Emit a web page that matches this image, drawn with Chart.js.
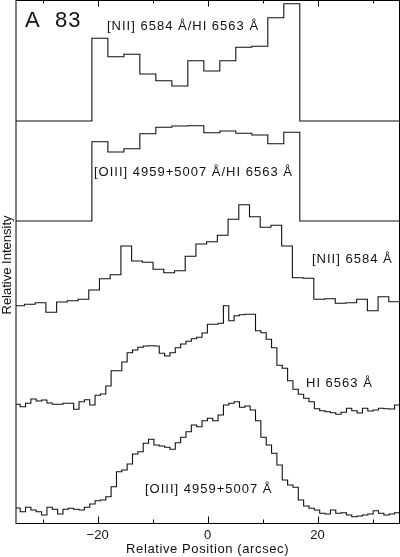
<!DOCTYPE html>
<html>
<head>
<meta charset="utf-8">
<script src="https://cdn.jsdelivr.net/npm/chart.js@4/dist/chart.umd.min.js"></script>
<style>
  html, body { margin: 0; padding: 0; background: #fff; }
</style>
</head>
<body>
<canvas id="chart" width="400" height="557"></canvas>
<script>
// x axis (arcsec)
const xMin = -34.85, xMax = 34.9;
const majorTicks = [-20, 0, 20];
const minorTicks = [-30, -10, 10, 30];

// line ratio profiles, 13 bins of 2.91" starting at -21.05"
const ratioStart = -21.05, ratioWidth = 2.909;
const niiRatio = [82.7, 64.3, 66.7, 47, 40.3, 35, 60.3, 50, 60.3, 73.7, 74.7, 103.3, 117.3];
const oiiiRatio = [79.3, 69, 72.3, 87.3, 93.7, 95, 95.3, 88.3, 90, 87.7, 86, 77.3, 88.7];

// [NII] 6584 profile, bins of 1.95"
const niiStart = -35.26, niiWidth = 1.949;
const niiLine = [14.3, 15.7, 17.3, 7.7, 18, 19.3, 20.7, 30, 41.3, 45.3, 74, 59, 57.7, 50.7, 47.3, 49.3,
  63.7, 76, 78.3, 84.7, 100.7, 115.3, 103.3, 92.7, 94.7, 74, 42.3, 41.7, 20.7, 21.3, 16.7, 17.3,
  20.7, 9.3, 23.3, 18.3];

// HI 6563 and [OIII] profiles, bins of 0.97"
const fineStart = -35.06, fineWidth = 0.9727;
const hiLine = [15.7, 13.3, 16.7, 21, 19, 20, 17, 15.7, 15.7, 16.7, 16.7, 10.7, 18.3, 20.3, 15, 24.7,
  26, 34, 49.3, 49.3, 58, 67.3, 70, 72.7, 74, 74.3, 74, 66.7, 64, 67.3, 72.3, 76, 78.7, 81.3, 82.7,
  87, 95.7, 95.7, 96.7, 114.3, 99.3, 104.3, 105.3, 105.7, 105.7, 89.3, 87.3, 80.7, 72.3, 54.7, 51.7,
  39.3, 30.7, 25.7, 21.7, 18.3, 11.3, 9.3, 8.3, 7.3, 5.7, 7.7, 11.7, 9.3, 7, 11.7, 9, 10, 11.7, 11.3,
  11, 15, 12];
const oiiiLine = [15, 11.3, 15.7, 13, 11.3, 8, 15.7, 13.7, 9, 13.7, 14.7, 13.7, 13, 15.7, 19, 22.3,
  23, 26.3, 36.3, 51.3, 53, 59, 69, 71.3, 79.7, 83.7, 78, 77, 75.7, 73.7, 80.3, 85.7, 91.3, 98, 96.3,
  102.3, 104.7, 102.3, 108, 118, 119.7, 121.3, 115.7, 117, 113, 102.3, 85.7, 78, 69.7, 58, 43, 38,
  35.7, 23, 17, 14.7, 13, 9.7, 9, 13, 9.7, 10.3, 8, 6.3, 7, 8, 9, 12.3, 9.7, 8, 9, 10.3, 9.7];

// vertical offsets of the stacked profiles
const offsets = [402, 302, 203, 103, 0];

const labelFont = "'Liberation Sans', Arial, sans-serif";

// step points: left edge of every bin, plus closing point
function binPoints(start, width, values, offset) {
  const pts = values.map((v, i) => ({ x: start + i * width, y: offset + v }));
  pts.push({ x: start + values.length * width, y: offset + values[values.length - 1] });
  return pts;
}
// ratio profiles sit on a flat zero level outside the nebula
function ratioPoints(values, offset) {
  const pts = [{ x: xMin, y: offset }];
  values.forEach((v, i) => pts.push({ x: ratioStart + i * ratioWidth, y: offset + v }));
  pts.push({ x: ratioStart + values.length * ratioWidth, y: offset });
  pts.push({ x: xMax, y: offset });
  return pts;
}

function stepSet(data) {
  return {
    data: data,
    stepped: 'before',
    borderColor: '#111',
    borderWidth: 1.1,
    pointRadius: 0,
    fill: false
  };
}

const labels = [
  { text: 'A  83', x: 25, y: 27, size: 22, spacing: 1 },
  { text: '[NII] 6584 Å/HI 6563 Å', x: 107, y: 30, size: 13, spacing: 1 },
  { text: '[OIII] 4959+5007 Å/HI 6563 Å', x: 94, y: 176, size: 13, spacing: 1 },
  { text: '[NII] 6584 Å', x: 312, y: 263, size: 13, spacing: 1 },
  { text: 'HI 6563 Å', x: 306, y: 387, size: 13, spacing: 1 },
  { text: '[OIII] 4959+5007 Å', x: 145, y: 493, size: 13, spacing: 1 }
];

const framePlugin = {
  id: 'frame',
  afterDraw(chart) {
    const { ctx, chartArea: a, scales: { x } } = chart;
    ctx.save();
    ctx.strokeStyle = '#000';
    ctx.lineWidth = 1;
    ctx.strokeRect(a.left, a.top + 0.5, a.right - a.left, a.bottom - a.top);
    // ticks point inward, top and bottom
    ctx.beginPath();
    const tick = (v, len) => {
      const px = Math.round(x.getPixelForValue(v)) + 0.5;
      ctx.moveTo(px, a.bottom); ctx.lineTo(px, a.bottom - len);
      ctx.moveTo(px, a.top); ctx.lineTo(px, a.top + len);
    };
    majorTicks.forEach(v => tick(v, 6.5));
    minorTicks.forEach(v => tick(v, 3.5));
    ctx.stroke();

    ctx.fillStyle = '#111';
    ctx.textBaseline = 'alphabetic';
    labels.forEach(l => {
      ctx.font = l.size + 'px ' + labelFont;
      ctx.letterSpacing = l.spacing + 'px';
      ctx.fillText(l.text, l.x, l.y);
    });

    // axis titles
    ctx.font = '13px ' + labelFont;
    ctx.textAlign = 'center';
    ctx.textBaseline = 'middle';
    ctx.letterSpacing = '0.6px';
    ctx.fillText('Relative Position (arcsec)', x.getPixelForValue(0), 549);
    ctx.letterSpacing = '0px';
    ctx.translate(7.5, 265);
    ctx.rotate(-Math.PI / 2);
    ctx.fillText('Relative Intensity', 0, 0);
    ctx.restore();
  }
};

new Chart(document.getElementById('chart'), {
  type: 'line',
  data: {
    datasets: [
      stepSet(ratioPoints(niiRatio, offsets[0])),
      stepSet(ratioPoints(oiiiRatio, offsets[1])),
      stepSet(binPoints(niiStart, niiWidth, niiLine, offsets[2])),
      stepSet(binPoints(fineStart, fineWidth, hiLine, offsets[3])),
      stepSet(binPoints(fineStart, fineWidth, oiiiLine, offsets[4]))
    ]
  },
  options: {
    responsive: false,
    animation: false,
    layout: { padding: { top: 0, right: 0.5, left: 0, bottom: 0 } },
    plugins: { legend: { display: false }, tooltip: { enabled: false } },
    scales: {
      x: {
        type: 'linear',
        min: xMin,
        max: xMax,
        afterFit(s) { s.height = 34; },
        afterBuildTicks(s) { s.ticks = majorTicks.map(v => ({ value: v })); },
        grid: { display: false, drawTicks: false },
        border: { display: false },
        ticks: {
          padding: 5,
          maxRotation: 0,
          autoSkip: false,
          color: '#111',
          font: { family: labelFont, size: 13 },
          callback: v => v < 0 ? '\u2212' + (-v) : String(v)
        },
        title: { display: false }
      },
      y: {
        min: 0,
        max: 523,
        afterFit(s) { s.width = 16; },
        grid: { display: false, drawTicks: false },
        border: { display: false },
        ticks: { display: false },
        title: { display: false }
      }
    }
  },
  plugins: [framePlugin]
});
</script>
</body>
</html>
